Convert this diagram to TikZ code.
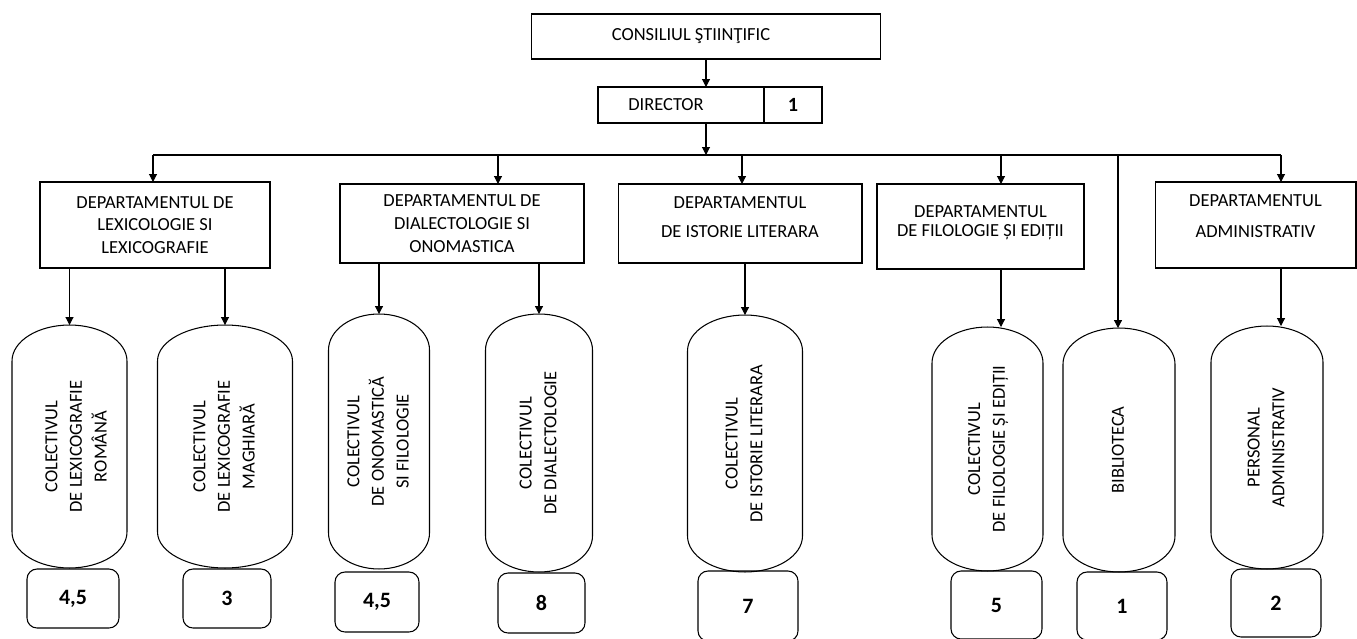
\documentclass[tikz,border=0pt]{standalone}
\usepackage{fontspec}
\setmainfont{Carlito}
\usepackage{graphicx}
\usepackage{tikz}
\usetikzlibrary{positioning,calc,arrows.meta}
\newcommand{\rotlabel}[1]{\rotatebox{90}{\begin{tabular}{@{}c@{}}#1\end{tabular}}}
\renewcommand{\arraystretch}{1.08}

\begin{document}
\begin{tikzpicture}[x=0.02cm, y=-0.02cm, line width=0.6pt,
    font=\fontsize{10.5}{13}\selectfont,
    box/.style={draw, rectangle, align=center, inner sep=2pt, outer sep=0pt},
    capsule/.style={rectangle, inner sep=0pt, outer sep=0pt},
    nr/.style={draw, rounded corners=0.2cm, outer sep=0pt, font=\fontsize{12.5}{14}\selectfont\bfseries},
    arr/.style={-{Triangle[length=4.5pt,width=4.5pt]}}]
    \useasboundingbox (0,0) rectangle (1357,639);

    \node[box, minimum width=7cm, minimum height=0.9cm] (cons) at (706,36.5) {CONSILIUL ŞTIINŢIFIC\hspace*{0.6cm}};
    \node[box, minimum width=3.32cm, minimum height=0.72cm] (dir) at (681,105) {DIRECTOR\hspace*{0.6cm}};
    \node[box, minimum width=1.16cm, minimum height=0.72cm, right=0pt of dir,
        font=\fontsize{11.5}{13}\selectfont\bfseries] (dirnr) {1};

    \node[box, minimum width=4.6cm, minimum height=1.72cm] (dep1) at (155,225)
        {DEPARTAMENTUL DE\\LEXICOLOGIE SI\\LEXICOGRAFIE};
    \node[box, minimum width=4.88cm, minimum height=1.58cm] (dep2) at (462,223.5)
        {DEPARTAMENTUL DE\\DIALECTOLOGIE SI\\ONOMASTICA};
    \node[box, minimum width=4.88cm, minimum height=1.58cm, text depth=7pt] (dep3) at (740,223.5)
        {DEPARTAMENTUL\\[3.5pt]DE ISTORIE LITERARA};
    \node[box, minimum width=4.14cm, minimum height=1.7cm, text depth=6pt] (dep4) at (980.5,226.5)
        {DEPARTAMENTUL\\[-2pt]DE FILOLOGIE ȘI EDIȚII};
    \node[box, minimum width=4.02cm, minimum height=1.72cm, text depth=10pt] (dep5) at (1255.5,225)
        {DEPARTAMENTUL\\[5pt]ADMINISTRATIV};

    \node[capsule, minimum width=2.3cm, minimum height=4.86cm] (col1) at (69.5,446.5)
        {\hspace*{0.3cm}\rotlabel{COLECTIVUL\\DE LEXICOGRAFIE\\ROMÂNĂ}};
    \node[capsule, minimum width=2.7cm, minimum height=4.86cm] (col2) at (225,446.5)
        {\rotlabel{COLECTIVUL\\DE LEXICOGRAFIE\\MAGHIARĂ}};
    \node[capsule, minimum width=2.02cm, minimum height=5.1cm] (col3) at (379,441.5)
        {\rotlabel{COLECTIVUL\\DE ONOMASTICĂ\\SI FILOLOGIE}};
    \node[capsule, minimum width=2.14cm, minimum height=5.16cm] (col4) at (539,443)
        {\rotlabel{COLECTIVUL\\DE DIALECTOLOGIE}};
    \node[capsule, minimum width=2.3cm, minimum height=5.14cm] (col5) at (745,443.5)
        {\rotlabel{COLECTIVUL\\DE ISTORIE LITERARA}};
    \node[capsule, minimum width=2.22cm, minimum height=4.88cm] (col6) at (987.5,449)
        {\rotlabel{COLECTIVUL\\DE FILOLOGIE ȘI EDIȚII}};
    \node[capsule, minimum width=2.24cm, minimum height=4.88cm] (col7) at (1119,450)
        {\rotlabel{BIBLIOTECA}};
    \node[capsule, minimum width=2.24cm, minimum height=4.86cm] (col8) at (1267,447.5)
        {\rotlabel{PERSONAL\\ADMINISTRATIV}};

    \foreach \i in {1,...,8}
        \draw let \p1=(col\i.north west), \p2=(col\i.south east), \n1={(\x2-\x1)/2} in
            (\x1,\y1-0.72cm) -- (\x1,\y2+0.72cm)
            arc[start angle=180, end angle=360, x radius=\n1*1pt, y radius=0.72cm]
            -- (\x2,\y1-0.72cm)
            arc[start angle=0, end angle=180, x radius=\n1*1pt, y radius=0.72cm] -- cycle;

    \node[nr, minimum width=1.84cm, minimum height=1.18cm] (nr1) at (73,598.5) {4,5};
    \node[nr, minimum width=1.76cm, minimum height=1.18cm] (nr2) at (227,598.5) {3};
    \node[nr, minimum width=1.68cm, minimum height=1.2cm] (nr3) at (377,602) {4,5};
    \node[nr, minimum width=1.74cm, minimum height=1.2cm] (nr4) at (541.5,603) {8};
    \node[nr, minimum width=2cm, minimum height=1.4cm] (nr5) at (748,606) {7};
    \node[nr, minimum width=1.82cm, minimum height=1.36cm] (nr6) at (996.5,605) {5};
    \node[nr, minimum width=1.8cm, minimum height=1.36cm] (nr7) at (1122,606) {1};
    \node[nr, minimum width=1.8cm, minimum height=1.36cm] (nr8) at (1276,603) {2};

    \coordinate (b1) at (153,155);
    \coordinate (b2) at (498,155);
    \coordinate (b3) at (742,155);
    \coordinate (b4) at (1001,155);
    \coordinate (b5) at (1118,155);
    \coordinate (b6) at (1281,155);

    \draw[arr] (cons.south) -- (cons.south |- dir.north);
    \draw[arr] (cons.south |- dir.south) -- (cons.south |- b1);
    \draw (b1) -- (b6);
    \foreach \b/\d in {b1/dep1, b2/dep2, b3/dep3, b4/dep4, b6/dep5}
        \draw[arr] (\b) -- (\b |- \d.north);
    \draw[arr] (b5) -- (b5 |- col7.north);

    \foreach \d/\c in {dep1/col1, dep1/col2, dep2/col3, dep2/col4, dep3/col5}
        \draw[arr] (\d.south -| \c.north) -- (\c.north);
    \draw[arr] (b4 |- dep4.south) -- (b4 |- col6.north);
    \draw[arr] (b6 |- dep5.south) -- (b6 |- col8.north);
\end{tikzpicture}
\end{document}
